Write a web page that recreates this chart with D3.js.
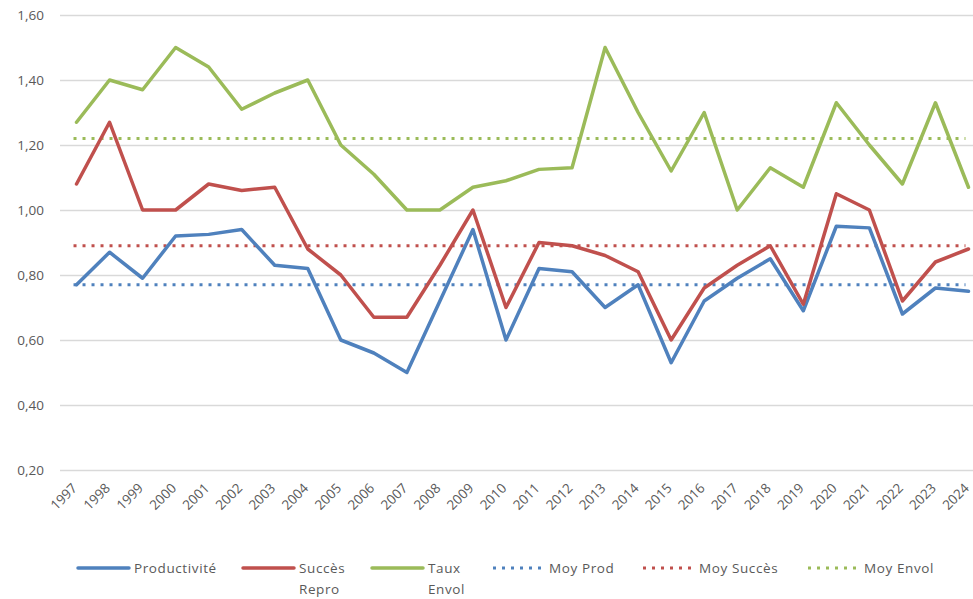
<!DOCTYPE html>
<html lang="fr">
<head>
<meta charset="UTF-8">
<title>Productivité / Succès / Taux d'envol</title>
<style>
  html, body { margin: 0; padding: 0; background: #fff; }
  #chart { width: 973px; height: 599px; }
  text { font-family: "Open Sans", "Liberation Sans", sans-serif; fill: #595959; }
</style>
</head>
<body>
<div id="chart"></div>
<script src="https://cdn.jsdelivr.net/npm/d3@7"></script>
<script>
// valeurs
const years = [1997, 1998, 1999, 2000, 2001, 2002, 2003, 2004, 2005, 2006, 2007, 2008, 2009, 2010,
               2011, 2012, 2013, 2014, 2015, 2016, 2017, 2018, 2019, 2020, 2021, 2022, 2023, 2024];
const productivite = [0.77, 0.87, 0.79, 0.92, 0.925, 0.94, 0.83, 0.82, 0.60, 0.56, 0.50, 0.72, 0.94, 0.60,
                      0.82, 0.81, 0.70, 0.77, 0.53, 0.72, 0.79, 0.85, 0.69, 0.95, 0.945, 0.68, 0.76, 0.75];
const succesRepro = [1.08, 1.27, 1.00, 1.00, 1.08, 1.06, 1.07, 0.88, 0.80, 0.67, 0.67, 0.83, 1.00, 0.70,
                     0.90, 0.89, 0.86, 0.81, 0.60, 0.76, 0.83, 0.89, 0.71, 1.05, 1.00, 0.72, 0.84, 0.88];
const tauxEnvol = [1.27, 1.40, 1.37, 1.50, 1.44, 1.31, 1.36, 1.40, 1.20, 1.11, 1.00, 1.00, 1.07, 1.09,
                   1.125, 1.13, 1.50, 1.30, 1.12, 1.30, 1.00, 1.13, 1.07, 1.33, 1.20, 1.08, 1.33, 1.07];
const moyProd = 0.77;
const moySucces = 0.89;
const moyEnvol = 1.22;
const yTicks = [0.2, 0.4, 0.6, 0.8, 1.0, 1.2, 1.4, 1.6];

const W = 973, H = 599;
const plot = { left: 60, right: 985, top: 15, bottom: 470 };

const svg = d3.select('#chart').append('svg')
  .attr('width', W).attr('height', H);

const x = d3.scalePoint()
  .domain(years)
  .range([plot.left, plot.right])
  .padding(0.5);

const y = d3.scaleLinear()
  .domain([0.2, 1.6])
  .range([plot.bottom, plot.top]);

const fmt = v => d3.format('.2f')(v).replace('.', ',');

// grille horizontale + étiquettes de l'axe Y
const yAxis = d3.axisLeft(y)
  .tickValues(yTicks)
  .tickSize(-(plot.right - plot.left))
  .tickPadding(16)
  .tickFormat(fmt);

svg.append('g')
  .attr('transform', `translate(${plot.left},0)`)
  .call(yAxis)
  .call(g => g.select('.domain').remove())
  .call(g => g.selectAll('line').attr('stroke', '#d9d9d9').attr('stroke-width', 1.3))
  .call(g => g.selectAll('text').attr('font-size', 13.5).attr('fill', '#595959'));

// axe X : années en diagonale
const xAxis = d3.axisBottom(x).tickSize(0).tickPadding(0);
svg.append('g')
  .attr('transform', `translate(0,${plot.bottom})`)
  .call(xAxis)
  .call(g => g.select('.domain').remove())
  .call(g => g.selectAll('text')
    .attr('font-size', 13.5)
    .attr('fill', '#595959')
    .attr('text-anchor', 'end')
    .attr('dy', null)
    .attr('y', 0)
    .attr('transform', 'translate(1,19) rotate(-45)'));

// séries
const series = [
  { name: 'Productivité', values: productivite, color: '#4f81bd' },
  { name: 'Succès Repro', values: succesRepro, color: '#c0504d' },
  { name: 'Taux Envol', values: tauxEnvol, color: '#9bbb59' }
];
const means = [
  { name: 'Moy Prod', value: moyProd, color: '#4f81bd' },
  { name: 'Moy Succès', value: moySucces, color: '#c0504d' },
  { name: 'Moy Envol', value: moyEnvol, color: '#9bbb59' }
];

const line = d3.line()
  .x((d, i) => x(years[i]))
  .y(d => y(d));

// lignes de moyenne (pointillés)
means.forEach(m => {
  svg.append('path')
    .attr('d', line(years.map(() => m.value)))
    .attr('fill', 'none')
    .attr('stroke', m.color)
    .attr('stroke-width', 3)
    .attr('stroke-dasharray', '3 6')
    .attr('transform', 'translate(-3,0)');
});

series.forEach(s => {
  svg.append('path')
    .attr('d', line(s.values))
    .attr('fill', 'none')
    .attr('stroke', s.color)
    .attr('stroke-width', 3.5)
    .attr('stroke-linejoin', 'round')
    .attr('stroke-linecap', 'round');
});

// légende
const legendY = 568;
const legendItems = [
  { x: 78, lines: ['Productivité'], color: '#4f81bd', dash: null },
  { x: 243, lines: ['Succès', 'Repro'], color: '#c0504d', dash: null },
  { x: 372, lines: ['Taux', 'Envol'], color: '#9bbb59', dash: null },
  { x: 493, lines: ['Moy Prod'], color: '#4f81bd', dash: '3 6' },
  { x: 643, lines: ['Moy Succès'], color: '#c0504d', dash: '3 6' },
  { x: 808, lines: ['Moy Envol'], color: '#9bbb59', dash: '3 6' }
];
const lg = svg.append('g');
legendItems.forEach(it => {
  lg.append('line')
    .attr('x1', it.x).attr('x2', it.x + 51)
    .attr('y1', legendY).attr('y2', legendY)
    .attr('stroke', it.color)
    .attr('stroke-width', it.dash ? 3 : 3.5)
    .attr('stroke-dasharray', it.dash)
    .attr('stroke-linecap', it.dash ? null : 'round');
  const t = lg.append('text')
    .attr('x', it.x + 56)
    .attr('y', legendY + 5)
    .attr('font-size', 13.5)
    .attr('letter-spacing', 0.6)
    .attr('fill', '#595959');
  it.lines.forEach((ln, i) => {
    t.append('tspan')
      .attr('x', it.x + 56)
      .attr('dy', i === 0 ? 0 : 21)
      .text(ln);
  });
});
</script>
</body>
</html>
